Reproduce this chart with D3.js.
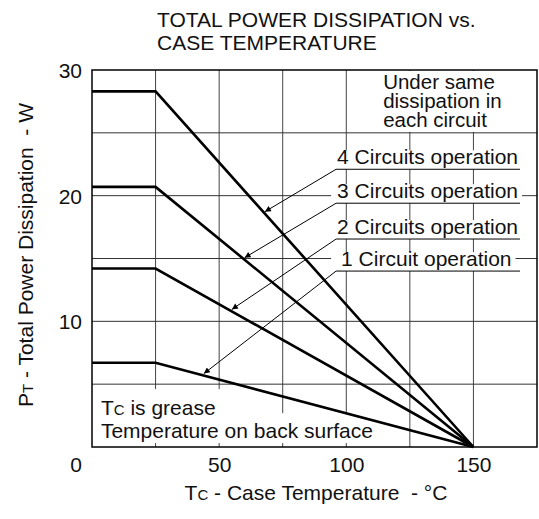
<!DOCTYPE html>
<html>
<head>
<meta charset="utf-8">
<script src="https://cdn.jsdelivr.net/npm/d3@7"></script>
<style>
  body { margin: 0; background: #fff; }
  svg text { font-family: "Liberation Sans", Arial, sans-serif; fill: #111; white-space: pre; }
</style>
</head>
<body>
<svg width="539" height="519"></svg>
<script>
// data
const tcKnots = [0, 25, 150];               // Tc where the derating curves bend
const circuitLabels = ["4 Circuits operation", "3 Circuits operation", "2 Circuits operation", "1 Circuit operation"];
const pMax = [28.3, 20.7, 14.2, 6.7];       // flat part, W
const arrowTc = [68, 60, 55, 44];           // where each leader arrow hits its curve
const labelTc = 96;                          // left end of the label underlines
const labelP = [22.1, 19.4, 16.55, 14.0];   // underline height, W
const xTicks = [50, 100, 150];
const yTicks = [10, 20, 30];
const xGrid = [25, 50, 75, 100, 125, 150];
const yGrid = [5, 10, 15, 20, 25];

const svg = d3.select("svg");
const margin = {top: 70, right: 2, bottom: 72, left: 92},
    width = 539 - margin.left - margin.right,
    height = 519 - margin.top - margin.bottom;

const x = d3.scaleLinear().domain([0, 175]).range([margin.left, margin.left + width]);
const y = d3.scaleLinear().domain([0, 30]).range([margin.top + height, margin.top]);

// grid
svg.append("g")
    .selectAll("line")
    .data(xGrid)
    .join("line")
    .attr("x1", d => x(d)).attr("x2", d => x(d))
    .attr("y1", y(0)).attr("y2", y(30))
    .attr("stroke", "#444").attr("stroke-width", 1);
svg.append("g")
    .selectAll("line")
    .data(yGrid)
    .join("line")
    .attr("x1", x(0)).attr("x2", x(175))
    .attr("y1", d => y(d)).attr("y2", d => y(d))
    .attr("stroke", "#333").attr("stroke-width", 1);

// layers: white masks go over the grid, the rest on top
const masks = svg.append("g");
const marks = svg.append("g");
const texts = svg.append("g");

// arrowhead
svg.append("defs").append("marker")
    .attr("id", "arr")
    .attr("viewBox", "0 0 10 10")
    .attr("refX", 10).attr("refY", 5)
    .attr("markerWidth", 12).attr("markerHeight", 6)
    .attr("markerUnits", "userSpaceOnUse")
    .attr("orient", "auto")
    .append("path")
    .attr("d", "M0,0 L10,5 L0,10 z")
    .attr("fill", "#000");

// curves
const line = d3.line().x(d => x(d[0])).y(d => y(d[1]));
marks.selectAll("path.curve")
    .data(pMax)
    .join("path")
    .attr("class", "curve")
    .attr("d", p => line(tcKnots.map((t, i) => [t, i < 2 ? p : 0])))
    .attr("fill", "none")
    .attr("stroke", "#000")
    .attr("stroke-width", 2.6)
    .attr("stroke-linejoin", "miter");

// labels with underline + leader
circuitLabels.forEach((lab, i) => {
    const ux = x(labelTc), uy = y(labelP[i]);
    const t = texts.append("text")
        .attr("x", ux + (i == 3 ? 5 : 1))
        .attr("y", uy - 5)
        .style("font-size", "21px")
        .text(lab);
    const bb = t.node().getBBox();
    masks.append("rect")
        .attr("x", ux - 5).attr("y", uy - 19)
        .attr("width", bb.x + bb.width + 4 - (ux - 5))
        .attr("height", 19)
        .attr("fill", "#fff");
    marks.append("line")
        .attr("x1", ux).attr("x2", x(175) - 17)
        .attr("y1", uy).attr("y2", uy)
        .attr("stroke", "#000").attr("stroke-width", 1);
    const tipP = pMax[i] * (150 - arrowTc[i]) / (150 - 25);
    marks.append("line")
        .attr("x1", ux).attr("y1", uy)
        .attr("x2", x(arrowTc[i])).attr("y2", y(tipP) - 2)
        .attr("stroke", "#000").attr("stroke-width", 1)
        .attr("marker-end", "url(#arr)");
});

// note top right
const noteLines = ["Under same", "dissipation in", "each circuit"];
masks.append("rect")
    .attr("x", x(113)).attr("y", y(30) + 1)
    .attr("width", x(175) - x(113) - 1).attr("height", y(25) - y(30) - 2)
    .attr("fill", "#fff");
texts.selectAll("text.note")
    .data(noteLines)
    .join("text")
    .attr("class", "note")
    .attr("x", x(114.5))
    .attr("y", (d, i) => y(30) + 19 + i * 19)
    .style("font-size", "20.5px")
    .text(d => d);

// note bottom left
masks.append("rect")
    .attr("x", x(0) + 1).attr("y", y(5) + 5)
    .attr("width", x(52) - x(0)).attr("height", 26)
    .attr("fill", "#fff");
masks.append("rect")
    .attr("x", x(0) + 1).attr("y", y(5) + 29)
    .attr("width", x(113) - x(0)).attr("height", y(0) - y(5) - 33)
    .attr("fill", "#fff");
const n1 = texts.append("text").attr("x", x(3.5)).attr("y", y(5) + 31).style("font-size", "21px");
n1.append("tspan").text("T");
n1.append("tspan").style("font-size", "15px").text("C");
n1.append("tspan").text(" is grease");
texts.append("text").attr("x", x(3.5)).attr("y", y(5) + 54).style("font-size", "21px")
    .text("Temperature on back surface");

// frame
svg.append("rect")
    .attr("x", x(0)).attr("y", y(30))
    .attr("width", width).attr("height", height)
    .attr("fill", "none").attr("stroke", "#000").attr("stroke-width", 1.5);

// tick labels
svg.append("g")
    .attr("transform", `translate(0, ${y(0) + 10})`)
    .call(d3.axisBottom(x).tickValues(xTicks).tickSize(0).tickPadding(0))
    .call(g => g.select(".domain").remove())
    .selectAll("text")
    .style("font-size", "21px").attr("dy", "0.71em").attr("fill", "#111");
svg.append("g")
    .attr("transform", `translate(${x(0) - 10}, 0)`)
    .call(d3.axisLeft(y).tickValues(yTicks).tickSize(0).tickPadding(0))
    .call(g => g.select(".domain").remove())
    .selectAll("text")
    .style("font-size", "21px").attr("dy", "0.36em").attr("fill", "#111");
svg.append("text")
    .attr("x", x(0) - 10).attr("y", y(0) + 25)
    .attr("text-anchor", "end")
    .style("font-size", "21px")
    .text("0");

// title
svg.append("text")
    .attr("x", 157).attr("y", 27)
    .style("font-size", "21px")
    .text("TOTAL POWER DISSIPATION vs.");
svg.append("text")
    .attr("x", 157).attr("y", 50)
    .style("font-size", "21px")
    .text("CASE TEMPERATURE");

// axis titles
const xt = svg.append("text")
    .attr("x", 316).attr("y", 500)
    .attr("text-anchor", "middle")
    .style("font-size", "21px");
xt.append("tspan").text("T");
xt.append("tspan").style("font-size", "15px").text("C");
xt.append("tspan").text(" - Case Temperature  - °C");

const yt = svg.append("text")
    .attr("transform", "translate(33, 255) rotate(-90)")
    .attr("text-anchor", "middle")
    .style("font-size", "21px");
yt.append("tspan").text("P");
yt.append("tspan").style("font-size", "15px").text("T");
yt.append("tspan").text(" - Total Power Dissipation  - W");
</script>
</body>
</html>
